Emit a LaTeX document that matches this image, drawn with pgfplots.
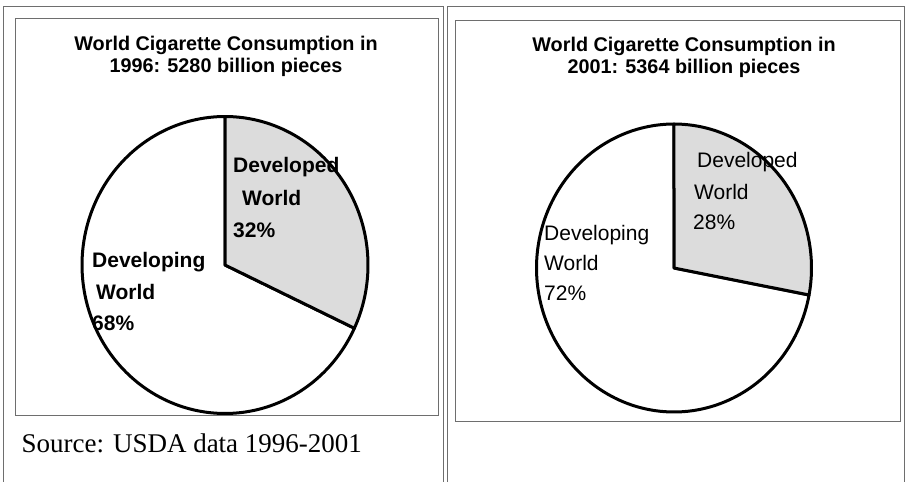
\documentclass[border=0pt]{standalone}
\usepackage{fontspec}
\setmainfont{Liberation Serif}
\newfontfamily\arial{Liberation Sans}
\usepackage{pgfplots}
\pgfplotsset{compat=1.18}
\definecolor{devfill}{RGB}{220,220,220}
\definecolor{frame}{RGB}{110,110,110}
% shares of world consumption (percent), developed world
\def\devA{32}% 1996
\def\devB{28}% 2001
\begin{document}
\begin{tikzpicture}
\path[use as bounding box] (0,0) rectangle (906pt,-482pt);
\begin{scope}[x=1pt,y=-1pt]
  % frames
  \draw[frame, line width=0.8pt] (3,6) -- (443,6) -- (443,490);
  \draw[frame, line width=0.8pt] (3,6) -- (3,490);
  \draw[frame, line width=0.8pt] (15,18) rectangle (438,415);
  \draw[frame, line width=0.8pt] (447,490) -- (447,6) -- (904,6) -- (904,490);
  \draw[frame, line width=0.8pt] (455,20) rectangle (900,421);
  % titles
  \node[font=\arial\bfseries\fontsize{19.8}{22}\selectfont, align=center] at (226,56)
     {World Cigarette Consumption in\\1996: 5280 billion pieces};
  \node[font=\arial\bfseries\fontsize{19.8}{22}\selectfont, align=center] at (684,57)
     {World Cigarette Consumption in\\2001: 5364 billion pieces};
  % source
  \node[font=\fontsize{27}{30}\selectfont, anchor=west] at (18,443) {Source: USDA data 1996-2001};
\end{scope}

\begin{axis}[at={(225pt,-265pt)}, anchor=origin, x=143pt, y=148.5pt,
  hide axis, xmin=-1, xmax=1, ymin=-1, ymax=1, clip=false]
  \addplot[draw=black, line width=3pt, line join=round, fill=white,
     domain={-270}:{90-3.6*\devA}, samples=150]
     ({cos(x)},{sin(x)}) -- (axis cs:0,0) -- cycle;
  \addplot[draw=black, line width=3pt, line join=round, fill=devfill,
     domain={90-3.6*\devA}:90, samples=80]
     ({cos(x)},{sin(x)}) -- (axis cs:0,0) -- cycle;
\end{axis}

\begin{axis}[at={(674pt,-268pt)}, anchor=origin, x=137.5pt, y=144pt,
  hide axis, xmin=-1, xmax=1, ymin=-1, ymax=1, clip=false]
  \addplot[draw=black, line width=3pt, line join=round, fill=white,
     domain={-270}:{90-3.6*\devB}, samples=150]
     ({cos(x)},{sin(x)}) -- (axis cs:0,0) -- cycle;
  \addplot[draw=black, line width=3pt, line join=round, fill=devfill,
     domain={90-3.6*\devB}:90, samples=80]
     ({cos(x)},{sin(x)}) -- (axis cs:0,0) -- cycle;
\end{axis}

\begin{scope}[x=1pt,y=-1pt]
  \begin{scope}[every node/.style={anchor=west, inner sep=0pt, font=\arial\bfseries\fontsize{21}{25}\selectfont}]
    \node at (233,167) {Developed};
    \node at (242,198) {World};
    \node at (233,230) {32\%};
    \node at (92,262) {Developing};
    \node at (96,292) {World};
    \node at (92,323) {68\%};
  \end{scope}
  \begin{scope}[every node/.style={anchor=west, inner sep=0pt, font=\arial\fontsize{21}{25}\selectfont}]
    \node at (697,162) {Developed};
    \node at (694,192) {World};
    \node at (693,222) {28\%};
    \node at (544,235) {Developing};
    \node at (544,263) {World};
    \node at (544,293) {72\%};
  \end{scope}
\end{scope}
\end{tikzpicture}
\end{document}
